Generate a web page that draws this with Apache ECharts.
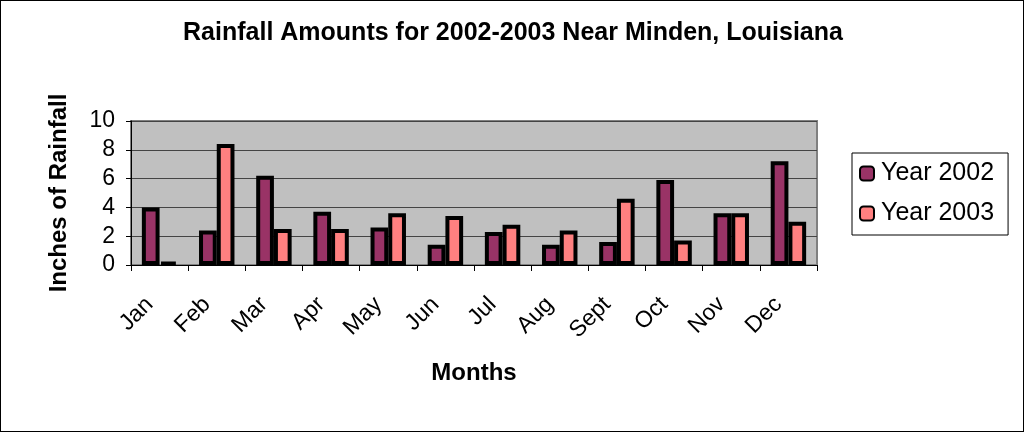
<!DOCTYPE html>
<html><head><meta charset="utf-8">
<script src="https://cdn.jsdelivr.net/npm/echarts@6/dist/echarts.min.js"></script>
<style>html,body{margin:0;padding:0;background:#fff}#c{width:1024px;height:432px;box-sizing:border-box;border:1px solid #000}</style>
</head><body><div id="c"></div>
<script>
const months = ['Jan','Feb','Mar','Apr','May','Jun','Jul','Aug','Sept','Oct','Nov','Dec'];
const year2002 = [4.0, 2.4, 6.2, 3.7, 2.6, 1.4, 2.3, 1.4, 1.6, 5.9, 3.6, 7.2];
const year2003 = [0.2, 8.4, 2.5, 2.5, 3.6, 3.4, 2.8, 2.4, 4.6, 1.7, 3.6, 3.0];
const yTicks = [0, 2, 4, 6, 8, 10];

const chart = echarts.init(document.getElementById('c'), null, {renderer: 'canvas'});
const font = 'Liberation Sans, Arial, sans-serif';
chart.setOption({
  animation: false,
  backgroundColor: '#fff',
  title: {
    text: 'Rainfall Amounts for 2002-2003 Near Minden, Louisiana',
    left: 507, top: 15, textAlign: 'center',
    textStyle: {fontFamily: font, fontWeight: 'bold', fontSize: 25, color: '#000'}
  },
  legend: {
    orient: 'vertical', left: 851, top: 152,
    padding: [8, 14, 9, 7], itemGap: 15,
    borderColor: '#000', borderWidth: 1,
    itemWidth: 14, itemHeight: 14,
    textStyle: {fontFamily: font, fontSize: 25, color: '#000', padding: [0,0,0,2]},
    data: ['Year 2002', 'Year 2003']
  },
  grid: {left: 130, right: 206, top: 120, bottom: 166, show: true, backgroundColor: '#C0C0C0', borderColor: '#808080', borderWidth: 2},
  xAxis: {
    type: 'category', data: months,
    name: 'Months', nameLocation: 'middle', nameGap: 96,
    nameTextStyle: {fontFamily: font, fontWeight: 'bold', fontSize: 24, color: '#000'},
    axisLine: {lineStyle: {color: '#000', width: 1}},
    axisTick: {show: true, length: 6, lineStyle: {color: '#000'}},
    axisLabel: {rotate: 45, fontFamily: font, fontSize: 23, color: '#000', margin: 26, padding: [0, 14, 0, 0]}
  },
  yAxis: {
    type: 'value', min: 0, max: 10, interval: 2,
    name: 'Inches of Rainfall', nameLocation: 'middle', nameGap: 60, nameRotate: 90,
    nameTextStyle: {fontFamily: font, fontWeight: 'bold', fontSize: 24, color: '#000'},
    axisLine: {show: true, lineStyle: {color: '#000', width: 1}},
    axisTick: {show: true, length: 5, lineStyle: {color: '#000'}},
    splitLine: {lineStyle: {color: '#444', width: 1}},
    axisLabel: {fontFamily: font, fontSize: 23, color: '#000', margin: 16,
      formatter: v => yTicks.includes(v) ? String(v) : ''}
  },
  series: [
    {name: 'Year 2002', type: 'bar', data: year2002, barGap: '0%', barCategoryGap: '38%',
     itemStyle: {color: '#993366', borderColor: '#000', borderWidth: 4}},
    {name: 'Year 2003', type: 'bar', data: year2003, barGap: '0%', barCategoryGap: '38%',
     itemStyle: {color: '#FF8080', borderColor: '#000', borderWidth: 4}}
  ]
});
</script></body></html>
